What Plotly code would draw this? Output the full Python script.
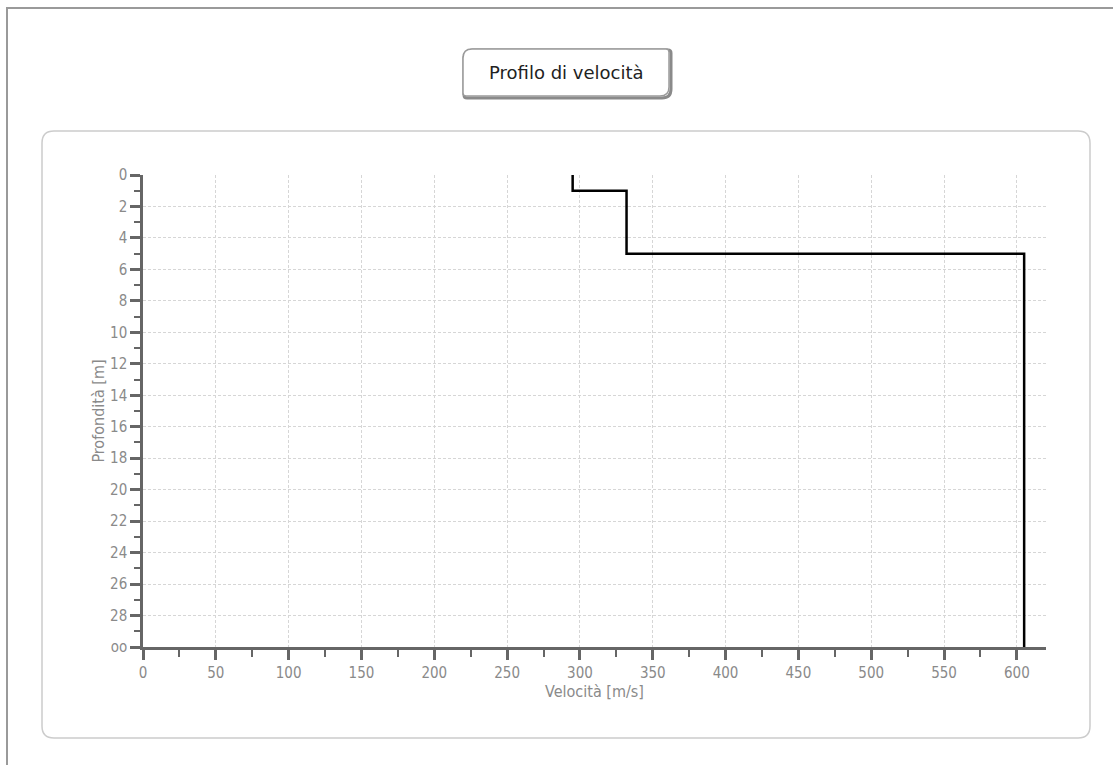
import plotly.graph_objects as go

# Data: layered velocity profile
layer_velocity = [295, 332, 605]      # m/s
layer_top_depth = [0, 1, 5]           # m
profile_bottom = 30                   # m
x_tick_vals = list(range(0, 601, 50))
y_tick_vals = list(range(0, 31, 2))
y_tick_text = [str(v) for v in y_tick_vals[:-1]] + ["oo"]

# build step profile
xs, ys = [], []
for i, v in enumerate(layer_velocity):
    top = layer_top_depth[i]
    bot = layer_top_depth[i + 1] if i + 1 < len(layer_top_depth) else profile_bottom
    xs += [v, v]
    ys += [top, bot]

W, H = 1113, 765
L, R, T, B = 143, 1046, 175, 647


def px(x):
    return (x - L) / (R - L)


def py(y):
    return (B - y) / (B - T)


def rrect(x0, y0, x1, y1, r_tl, r_tr, r_br, r_bl):
    def P(x, y):
        return f"{px(x)},{py(y)}"
    return (f"M {P(x0 + r_tl, y0)} L {P(x1 - r_tr, y0)} Q {P(x1, y0)} {P(x1, y0 + r_tr)} "
            f"L {P(x1, y1 - r_br)} Q {P(x1, y1)} {P(x1 - r_br, y1)} "
            f"L {P(x0 + r_bl, y1)} Q {P(x0, y1)} {P(x0, y1 - r_bl)} "
            f"L {P(x0, y0 + r_tl)} Q {P(x0, y0)} {P(x0 + r_tl, y0)} Z")


TICK_FONT = dict(family="DejaVu Sans Condensed, DejaVu Sans", size=15, color="#8a8a8a")
TITLE_FONT = dict(family="DejaVu Sans Condensed, DejaVu Sans", size=16, color="#8a8a8a")

fig = go.Figure()
fig.add_trace(go.Scatter(x=xs, y=ys, mode="lines",
                         line=dict(color="black", width=2.5),
                         hoverinfo="skip", showlegend=False, cliponaxis=False))

shapes = [
    # outer frame (top and left edges)
    dict(type="line", xref="paper", yref="paper", x0=px(6), x1=px(1113), y0=py(8), y1=py(8),
         line=dict(color="#9a9a9a", width=2), layer="below"),
    dict(type="line", xref="paper", yref="paper", x0=px(7), x1=px(7), y0=py(7), y1=py(765),
         line=dict(color="#9a9a9a", width=2), layer="below"),
    # inner panel
    dict(type="path", xref="paper", yref="paper", path=rrect(42, 131, 1090, 738, 12, 12, 12, 12),
         line=dict(color="#cccccc", width=1.5), fillcolor="white", layer="below"),
    # title box shadow + box
    dict(type="path", xref="paper", yref="paper", path=rrect(464, 50, 671, 98, 9, 3, 9, 3),
         line=dict(color="#8a8a8a", width=3), fillcolor="white", layer="above"),
    dict(type="path", xref="paper", yref="paper", path=rrect(463, 49, 669, 96, 9, 3, 9, 3),
         line=dict(color="#9a9a9a", width=1.5), fillcolor="white", layer="above"),
]

fig.update_layout(
    width=W, height=H,
    margin=dict(l=L, r=W - R, t=T, b=H - B),
    paper_bgcolor="white", plot_bgcolor="white",
    shapes=shapes,
    showlegend=False,
    annotations=[dict(text="Profilo di velocità", xref="paper", yref="paper",
                      x=px(566), y=py(73), xanchor="center", yanchor="middle", showarrow=False,
                      font=dict(family="DejaVu Sans", size=18, color="#222222"))],
    font=TICK_FONT,
)

fig.update_xaxes(
    range=[0, 620], tickvals=x_tick_vals, showline=True, linecolor="#666666", linewidth=2.5,
    ticks="outside", ticklen=10, tickwidth=2.5, tickcolor="#666666",
    minor=dict(dtick=25, tick0=0, ticks="outside", ticklen=7, tickwidth=2, tickcolor="#666666", showgrid=False),
    showgrid=True, gridcolor="#d6d6d6", griddash="3px,2px", gridwidth=1, zeroline=False,
    tickfont=TICK_FONT,
    title=dict(text="Velocità [m/s]", standoff=2, font=TITLE_FONT),
)
fig.update_yaxes(
    range=[30, 0], tickvals=y_tick_vals, ticktext=y_tick_text, showline=True,
    linecolor="#666666", linewidth=2.5,
    ticks="outside", ticklen=10, tickwidth=2.5, tickcolor="#666666",
    minor=dict(dtick=1, tick0=0, ticks="outside", ticklen=6, tickwidth=2, tickcolor="#666666", showgrid=False),
    showgrid=True, gridcolor="#d6d6d6", griddash="3px,2px", gridwidth=1, zeroline=False,
    tickfont=TICK_FONT,
    title=dict(text="Profondità [m]", standoff=2, font=TITLE_FONT),
)

fig.write_html("out.html", config={"displayModeBar": False},
               post_script="document.body.style.margin='0';")
